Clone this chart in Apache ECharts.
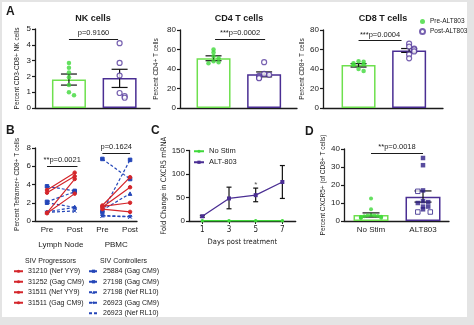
<!DOCTYPE html>
<html><head><meta charset="utf-8">
<script src="https://cdn.jsdelivr.net/npm/echarts@6/dist/echarts.min.js"></script>
<style>
html,body{margin:0;padding:0;background:#e4e4e4;}
#bg{position:absolute;left:2px;top:2px;width:465px;height:315px;background:#fff;}
#c{position:absolute;left:0;top:0;width:474px;height:325px;}
</style></head>
<body><div id="bg"></div><div id="c"></div>
<script>
// ---------- DATA ----------
const groupsA = ['Pre-ALT803', 'Post-ALT803'];
const nkPre = [2.85, 2.55, 2.25, 1.95, 1.45, 1.0, 0.8];
const nkPost = [4.1, 2.85, 2.05, 0.95, 0.75, 0.65];
const nkBar = [1.8, 1.9];
const nkErr = [[1.45, 2.15], [1.3, 2.45]];
const cd4Pre = [60, 57, 53, 51, 48, 47, 46];
const cd4Post = [47, 35, 34, 33, 32, 31, 30.5];
const cd4Bar = [51, 34.5];
const cd4Err = [[48.5, 53.5], [32, 37]];
const cd8Pre = [48, 47.5, 46, 45, 44, 40, 38];
const cd8Post = [66, 63, 61, 60, 58, 55, 51];
const cd8Bar = [44, 59];
const cd8Err = [[42, 45.5], [57, 61]];
const pNK = 'p=0.9160', pCD4 = '***p=0.0002', pCD8 = '***p=0.0004';

const progressors = ['31210 (Nef YY9)', '31252 (Gag CM9)', '31511 (Nef YY9)', '31511 (Gag CM9)'];
const controllers = ['25884 (Gag CM9)', '27198 (Gag CM9)', '27198 (Nef RL10)', '26923 (Gag CM9)', '26923 (Nef RL10)'];
const bCats = ['Pre', 'Post', 'Pre', 'Post'];
const bGroups = ['Lymph Node', 'PBMC'];
// order: progressors then controllers
const lnPre  = [3.4, 3.1, 0.9, 0.85, 3.8, 2.1, 2.0, 1.0, 0.95];
const lnPost = [5.3, 4.9, 4.6, 3.0, 3.3, 3.2, 1.5, 1.5, 1.1];
const pbPre  = [1.7, 1.5, 1.6, 1.3, 6.8, 1.0, 1.2, 0.6, 0.55];
const pbPost = [4.8, 3.7, 2.0, 1.0, 4.6, 6.7, 3.0, 0.5, 0.45];
const pLN = '**p=0.0021', pPB = 'p=0.1624';

const cDays = [1, 3, 5, 7];
const cAlt = [10, 48, 55, 83];
const cAltErr = [[8, 12], [26, 72], [41, 70], [48, 118]];
const cNoStim = [0.5, 0.5, 0.5, 0.5];

const dCats = ['No Stim', 'ALT803'];
const dNoStim = [12.5, 6.5, 3.2, 3.0, 3.0, 2.8, 2.6, 2.4, 2.2, 2.0, 1.8, 1.6];
const dAltFilled = [35, 31, 17, 11, 10.5, 10, 8, 8, 6.5];
const dAltOpen = [16.5, 5, 5];
const dBar = [3.3, 13.5];
const dErr = [[2.2, 4.5], [10.5, 16.7]];
const pD = '**p=0.0018';

// ---------- STYLE ----------
const FONT = "'Liberation Sans', Arial, Helvetica, sans-serif";
const NARROW = "'Liberation Sans Narrow', 'DejaVu Sans Condensed', 'Liberation Sans', sans-serif";
const INK = '#1b1b1b';
const GREEN = '#3fd83a', GREENBAR = '#6ee04e', PURPLE = '#55399c', PURPLEBAR = '#4a2e93', DARKPUR = '#2e1f86';
const RED = '#d4262b', BLUE = '#2446b8';

function swarm(vals, cx, thr, dx) {
  const placed = [];
  return vals.map(v => {
    const n = placed.filter(p => Math.abs(p - v) < thr).length;
    placed.push(v);
    const k = Math.ceil(n / 2) * (n % 2 ? 1 : -1);
    return [cx + k * dx, v];
  });
}
function xv(g, min, max, extra) {
  return Object.assign({type: 'value', gridIndex: g, min, max, position: 'bottom',
    axisLine: {show: true, onZero: false, lineStyle: {color: INK, width: 1.3}},
    axisTick: {show: false}, axisLabel: {show: false}, splitLine: {show: false}}, extra || {});
}
function yv(g, max, interval, name, gap, nameFont, nameSize) {
  return {type: 'value', gridIndex: g, min: 0, max, interval,
    axisLine: {show: true, onZero: false, lineStyle: {color: INK, width: 1.3}},
    axisTick: {show: true, length: 3, lineStyle: {color: INK, width: 1.2}},
    axisLabel: {fontSize: 8, color: INK, margin: 4, fontFamily: FONT},
    splitLine: {show: false},
    name, nameLocation: 'middle', nameRotate: 90, nameGap: gap,
    nameTextStyle: {fontSize: nameSize || 6.5, color: INK, fontFamily: nameFont || FONT}};
}
function errSeries(g, rows, cap) {
  return {type: 'custom', xAxisIndex: g, yAxisIndex: g, z: 4,
    data: rows, encode: {x: 0, y: [1, 2]},
    renderItem: function (params, api) {
      const x = api.value(0), a = api.coord([x, api.value(1)]), b = api.coord([x, api.value(2)]);
      const s = {stroke: '#111', lineWidth: 1.2};
      return {type: 'group', children: [
        {type: 'line', shape: {x1: a[0], y1: a[1], x2: b[0], y2: b[1]}, style: s},
        {type: 'line', shape: {x1: a[0] - cap / 2, y1: a[1], x2: a[0] + cap / 2, y2: a[1]}, style: s},
        {type: 'line', shape: {x1: b[0] - cap / 2, y1: b[1], x2: b[0] + cap / 2, y2: b[1]}, style: s}]};
    }};
}
function bracket(x1, x2, y, text) {
  return {silent: true, symbol: 'none', lineStyle: {color: INK, width: 1, type: 'solid'},
    label: {show: true, position: 'middle', formatter: text, fontSize: 7.5, color: INK, distance: 2, fontFamily: FONT},
    data: [[{coord: [x1, y]}, {coord: [x2, y]}]]};
}
function barSeries(g, vals, widths, mark) {
  return {type: 'bar', xAxisIndex: g, yAxisIndex: g, z: 2, barWidth: widths,
    data: vals.map((v, i) => ({value: [i + 1, v], itemStyle: {color: '#fff', borderColor: i === 0 ? GREENBAR : PURPLEBAR, borderWidth: 1.5}})),
    markLine: mark};
}
function ptsA(g, pre, post, thr) {
  return [
    {type: 'scatter', name: groupsA[0], xAxisIndex: g, yAxisIndex: g, z: 5, symbol: 'circle', symbolSize: 4.5,
      itemStyle: {color: GREEN}, data: swarm(pre, 1, thr, 0.1)},
    {type: 'scatter', name: groupsA[1], xAxisIndex: g, yAxisIndex: g, z: 5, symbol: 'circle', symbolSize: 5,
      itemStyle: {color: '#fff', borderColor: PURPLE, borderWidth: 1.2}, data: swarm(post, 2, thr, 0.1)}
  ];
}

const blueSymbols = ['rect', 'rect', 'triangle', 'diamond', 'path://M0,0L10,10M10,0L0,10Z'];
const bSeries = [];
progressors.concat(controllers).forEach((name, i) => {
  const isP = i < progressors.length;
  const col = isP ? RED : BLUE;
  bSeries.push({type: 'line', name, xAxisIndex: 3, yAxisIndex: 3, z: isP ? 4 : 3,
    symbol: isP ? 'circle' : blueSymbols[i - progressors.length], symbolSize: 3.5, connectNulls: false,
    lineStyle: {color: col, width: 1.2, type: isP ? 'solid' : [3, 2]},
    itemStyle: {color: col, borderColor: col},
    data: [[1, lnPre[i]], [2, lnPost[i]], [2.5, '-'], [3, pbPre[i]], [4, pbPost[i]]],
    markLine: i === 0 ? {silent: true, symbol: 'none', lineStyle: {color: INK, width: 1, type: 'solid'},
      label: {show: true, position: 'middle', fontSize: 7.5, color: INK, distance: 2, fontFamily: FONT},
      data: [[{coord: [1, 6.0], label: {formatter: pLN}}, {coord: [2.1, 6.0]}],
             [{coord: [3, 7.45], label: {formatter: pPB}}, {coord: [4, 7.45]}]]} : undefined
  });
});

const option = {
  animation: false,
  textStyle: {fontFamily: FONT},
  grid: [
    {left: 35, top: 29, width: 115, height: 79},
    {left: 180, top: 30, width: 117, height: 78},
    {left: 323, top: 30, width: 120, height: 78},
    {left: 35, top: 148, width: 102, height: 73},
    {left: 189, top: 150.5, width: 106.7, height: 70.5},
    {left: 344, top: 149, width: 105, height: 72}
  ],
  xAxis: [
    xv(0, 0.33, 2.6), xv(1, 0.337, 2.65), xv(2, 0.297, 2.67),
    xv(3, 0.567, 4.25, {axisTick: {show: false},
      axisLabel: {show: true, customValues: [1, 2, 3, 4], formatter: v => bCats[Math.round(v) - 1], fontSize: 8, color: INK, margin: 5}}),
    xv(4, 0, 8, {axisTick: {show: true, customValues: [1, 3, 5, 7], length: 3, lineStyle: {color: INK}},
      axisLabel: {show: true, customValues: cDays, fontSize: 8, color: INK, margin: 5, fontFamily: NARROW},
      name: 'Days post treatment', nameLocation: 'middle', nameGap: 17,
      nameTextStyle: {fontSize: 7.5, color: INK, fontFamily: NARROW}}),
    xv(5, 0.48, 2.5, {axisLabel: {show: true, customValues: [1, 2], formatter: v => dCats[Math.round(v) - 1], fontSize: 8, color: INK, margin: 5}}),
    xv(3, 0.567, 4.25, {position: 'bottom', offset: 0, axisLine: {show: false},
      axisLabel: {show: true, customValues: [1.5, 3.5], formatter: v => bGroups[v < 2.5 ? 0 : 1], fontSize: 8, color: INK, margin: 20}})
  ],
  yAxis: [
    yv(0, 5, 1, 'Percent CD3-CD8+ NK cells', 14),
    yv(1, 80, 20, 'Percent CD4+ T cells', 20),
    yv(2, 80, 20, 'Percent CD8+ T cells', 17),
    yv(3, 8, 2, 'Percent Tetramer+ CD8+ T cells', 14),
    yv(4, 150, 50, 'Fold Change in CXCR5 mRNA', 20, NARROW, 7.5),
    yv(5, 40, 10, 'Percent CXCR5+ (of CD8+ T cells)', 16)
  ],
  legend: [
    {left: 419, top: 18, orient: 'vertical', itemWidth: 5, itemHeight: 5, itemGap: 3, padding: 0,
      data: [{name: groupsA[0], icon: 'circle'}, {name: groupsA[1], icon: 'circle'}],
      textStyle: {fontSize: 6.5, color: INK, fontFamily: FONT}},
    {left: 13, top: 267, orient: 'vertical', itemWidth: 9, itemHeight: 4, itemGap: 2, padding: 0,
      data: progressors, textStyle: {fontSize: 7, color: INK, lineHeight: 8.5, fontFamily: FONT}},
    {left: 88, top: 267, orient: 'vertical', itemWidth: 9, itemHeight: 4, itemGap: 2, padding: 0,
      data: controllers, textStyle: {fontSize: 7, color: INK, lineHeight: 8.5, fontFamily: FONT}},
    {left: 193, top: 147, orient: 'vertical', itemWidth: 10, itemHeight: 4, itemGap: 2.5, padding: 0,
      data: ['No Stim', 'ALT-803'], textStyle: {fontSize: 7.5, color: INK, lineHeight: 8.5, fontFamily: FONT}}
  ],
  graphic: [
    {type: 'text', left: 6, top: 6, style: {text: 'A', font: 'bold 12px ' + FONT, fill: INK}},
    {type: 'text', left: 6, top: 125, style: {text: 'B', font: 'bold 12px ' + FONT, fill: INK}},
    {type: 'text', left: 151, top: 125, style: {text: 'C', font: 'bold 12px ' + FONT, fill: INK}},
    {type: 'text', left: 305, top: 126, style: {text: 'D', font: 'bold 12px ' + FONT, fill: INK}},
    {type: 'text', x: 93, y: 19, style: {text: 'NK cells', font: 'bold 9px ' + FONT, fill: INK, align: 'center', verticalAlign: 'middle'}},
    {type: 'text', x: 239, y: 19, style: {text: 'CD4 T cells', font: 'bold 9px ' + FONT, fill: INK, align: 'center', verticalAlign: 'middle'}},
    {type: 'text', x: 383, y: 19, style: {text: 'CD8 T cells', font: 'bold 9px ' + FONT, fill: INK, align: 'center', verticalAlign: 'middle'}},
    {type: 'text', x: 25, y: 261, style: {text: 'SIV Progressors', font: '7px ' + FONT, fill: INK, verticalAlign: 'middle'}},
    {type: 'text', x: 100, y: 261, style: {text: 'SIV Controllers', font: '7px ' + FONT, fill: INK, verticalAlign: 'middle'}}
  ],
  series: [
    // A: NK
    barSeries(0, nkBar, 34, bracket(1.0, 1.97, 4.37, pNK)),
    errSeries(0, nkErr.map((e, i) => [i + 1, e[0], e[1]]), 16),
    ...ptsA(0, nkPre, nkPost, 0.2),
    // A: CD4
    barSeries(1, cd4Bar, 34, bracket(1.03, 2.02, 70.8, pCD4)),
    errSeries(1, cd4Err.map((e, i) => [i + 1, e[0], e[1]]), 16),
    ...ptsA(1, cd4Pre, cd4Post, 2.5),
    // A: CD8
    barSeries(2, cd8Bar, 34, bracket(1.0, 1.85, 69, pCD8)),
    errSeries(2, cd8Err.map((e, i) => [i + 1, e[0], e[1]]), 16),
    ...ptsA(2, cd8Pre, cd8Post, 2.5),
    // B
    ...bSeries,
    // C
    errSeries(4, cAltErr.map((e, i) => [cDays[i], e[0], e[1]]), 5),
    {type: 'line', name: 'ALT-803', xAxisIndex: 4, yAxisIndex: 4, z: 5, symbol: 'rect', symbolSize: 4,
      lineStyle: {color: PURPLEBAR, width: 1.3}, itemStyle: {color: PURPLEBAR},
      data: cDays.map((d, i) => [d, cAlt[i]])},
    {type: 'line', name: 'No Stim', xAxisIndex: 4, yAxisIndex: 4, z: 6, symbol: 'circle', symbolSize: 3.5,
      lineStyle: {color: GREEN, width: 1.5}, itemStyle: {color: GREEN},
      data: cDays.map((d, i) => [d, cNoStim[i]])},
    {type: 'scatter', xAxisIndex: 4, yAxisIndex: 4, z: 6, symbolSize: 0,
      label: {show: true, position: 'inside', formatter: '*', fontSize: 8, color: INK},
      data: [[5, 78]]},
    // D
    {type: 'bar', xAxisIndex: 5, yAxisIndex: 5, z: 2, barWidth: 35,
      data: dBar.map((v, i) => ({value: [i + 1, v], itemStyle: {color: '#fff', borderColor: i === 0 ? GREENBAR : PURPLEBAR, borderWidth: 1.5}})),
      markLine: bracket(1, 2, 37.6, pD)},
    errSeries(5, dErr.map((e, i) => [i + 1, e[0], e[1]]), 17),
    {type: 'scatter', xAxisIndex: 5, yAxisIndex: 5, z: 5, symbol: 'circle', symbolSize: 4,
      itemStyle: {color: GREEN}, data: swarm(dNoStim, 1, 1.2, 0.065)},
    {type: 'scatter', xAxisIndex: 5, yAxisIndex: 5, z: 5, symbol: 'rect', symbolSize: 4.5,
      itemStyle: {color: DARKPUR}, data: swarm(dAltFilled, 2, 1.5, 0.1)},
    {type: 'scatter', xAxisIndex: 5, yAxisIndex: 5, z: 5, symbol: 'rect', symbolSize: 4.5,
      itemStyle: {color: '#fff', borderColor: DARKPUR, borderWidth: 1}, data: swarm(dAltOpen, 1.9, 1.5, 0.24)}
  ]
};
const chart = echarts.init(document.getElementById('c'), null, {renderer: 'canvas'});
chart.setOption(option);
</script>
</body></html>
